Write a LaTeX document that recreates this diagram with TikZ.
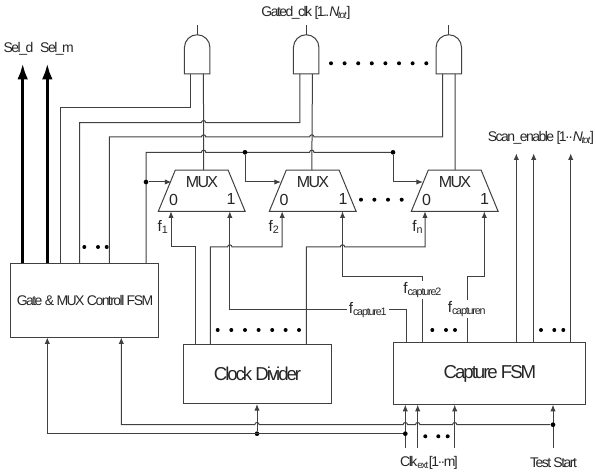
\documentclass[tikz,border=0pt]{standalone}
\usepackage{fontspec}
\setmainfont{Liberation Sans}
\newfontfamily\tightf[LetterSpace=-11]{Liberation Sans}
\usetikzlibrary{arrows.meta,calc}
\definecolor{ink}{gray}{0.25}
\newcommand{\jmp}[1]{-- ($(#1)+(-2.2,0)$) arc[start angle=180,end angle=360,radius=2.2]}
\newcommand{\jmpl}[1]{-- ($(#1)+(2.2,0)$) arc[start angle=360,end angle=180,radius=2.2]}
\tikzset{
  wire/.style={draw=ink,line width=0.75pt,line join=miter},
  arr/.style={wire,-{Latex[length=5pt,width=4pt]}},
  thickarr/.style={draw=black,line width=2.3pt,-{Latex[length=12pt,width=8pt]}},
  block/.style={draw=ink,line width=0.8pt,rectangle,inner sep=0pt,outer sep=0pt},
  dotn/.style={circle,fill=black,inner sep=0pt,minimum size=3pt},
  jdot/.style={circle,fill=black,inner sep=0pt,minimum size=3.5pt},
  lbl/.style={inner sep=0pt,text=black!85,font=\tightf\fontsize{10.5}{12}\selectfont},
  biglbl/.style={inner sep=0pt,text=black!85,font=\tightf\fontsize{14}{16}\selectfont},
  muxlbl/.style={inner sep=0pt,text=black!85,font=\tightf\fontsize{12}{14}\selectfont},
  digit/.style={inner sep=0pt,text=black!85,font=\fontsize{12}{14}\selectfont},
  flbl/.style={inner sep=1pt,fill=white,text=black!85,font=\tightf\fontsize{11.5}{13}\selectfont},
  andgate/.pic={
    \draw[wire] (-12.75,0) -- (-12.75,-26.5) arc[start angle=180,end angle=360,radius=12.75] -- (12.75,0) -- cycle;
    \coordinate (-a) at (-6.25,0);
    \coordinate (-b) at (6.25,0);
    \coordinate (-top) at (0,-39.2);
    \coordinate (-end) at (0,-49);
  },
  muxshape/.pic={
    \draw[wire] (-26.4,-20.65) -- (26.4,-20.65) -- (43.4,20.65) -- (-43.4,20.65) -- cycle;
  }
}
\begin{document}
\begin{tikzpicture}[x=0.75pt,y=-0.75pt]
\useasboundingbox (0,0) rectangle (596,473);

% blocks
\node[block,minimum width=111pt,minimum height=55.5pt] (fsm) at (84.3,300.3) {};
\node[block,minimum width=111.2pt,minimum height=44.5pt] (div) at (257.2,374.3) {};
\node[block,minimum width=144.2pt,minimum height=46.7pt] (cap) at (489.2,373.5) {};
\node[lbl] (fsmt) at (85,300) {Gate \& MUX Controll FSM};
\node[biglbl] (divt) at (257.5,374) {Clock Divider};
\node[biglbl] (capt) at (490,373.7) {Capture FSM};

% gates
\pic (g1) at (197.2,74) {andgate};
\pic (g2) at (306.2,74) {andgate};
\pic (g3) at (448.8,74) {andgate};
\draw[wire] (g1-top) -- (g1-end);
\draw[wire] (g2-top) -- (g2-end);
\draw[wire] (g3-top) -- (g3-end);

% muxes
\pic (m1) at (201.7,190.7) {muxshape};
\pic (m2) at (312.7,190.7) {muxshape};
\pic (m3) at (454.7,190.7) {muxshape};
\node[muxlbl] (m1t) at (202,182) {MUX};
\node[muxlbl] (m2t) at (313,182) {MUX};
\node[muxlbl] (m3t) at (455,182) {MUX};
\node[digit] (m1z) at (173.5,199.5) {0};
\node[digit] (m1o) at (231,199.5) {1};
\node[digit] (m2z) at (284,199.5) {0};
\node[digit] (m2o) at (343,199.5) {1};
\node[digit] (m3z) at (426.5,199.5) {0};
\node[digit] (m3o) at (484.5,199.5) {1};

% x positions of the buses
\coordinate (xa) at (60,108);
\coordinate (xb) at (79.5,122.7);
\coordinate (xc) at (109.3,137);
\coordinate (xd) at (146,152.3);
\coordinate (m1out) at (203.6,170);
\coordinate (m2out) at (311.8,170);
\coordinate (m3out) at (455,170);
\coordinate (m1in0) at (171,211.3);
\coordinate (m1in1) at (229.8,211.3);
\coordinate (m2in0) at (282.2,211.3);
\coordinate (m2in1) at (342.5,211.3);
\coordinate (m3in0) at (425,211.3);
\coordinate (m3in1) at (484.3,211.3);

% gate to mux stems
\draw[wire] (g1-b) -- (m1out);
\draw[wire] (g2-b) -- (m2out);
\draw[wire] (g3-b) -- (m3out);

% buses from the control FSM
\draw[thickarr] (22.7,263.3) coordinate (sd0) -- (22.7,63.3) coordinate (sd1);
\draw[thickarr] (47.3,263.3) coordinate (sm0) -- (47.3,63.3) coordinate (sm1);
\draw[wire] (xa |- fsm.north) -- (xa) -- (g1-a |- xa) -- (g1-a);
\draw[wire] (xb |- fsm.north) -- (xb) \jmp{m1out |- xb} -- (g2-a |- xb) -- (g2-a);
\draw[wire] (xc |- fsm.north) -- (xc) \jmp{m1out |- xc} \jmp{m2out |- xc} -- (g3-a |- xc) -- (g3-a);
\coordinate (sel2) at (245,152.3);
\coordinate (sel3) at (393,152.3);
\draw[wire] (xd |- fsm.north) -- (xd) \jmp{m1out |- xd} -- (sel2) \jmp{m2out |- xd} -- (sel3);

% select arrows
\node[jdot] (j0) at (146,182) {};
\node[jdot] (j2) at (sel2) {};
\node[jdot] (j3) at (sel3) {};
\coordinate (s1) at (171.5,182);
\coordinate (s2) at (281,182);
\coordinate (s3) at (423,182);
\draw[arr] (j0) -- (s1);
\draw[arr] (j2) -- (j2 |- s2) -- (s2);
\draw[arr] (j3) -- (j3 |- s3) -- (s3);

% clock divider to mux 0-inputs
\coordinate (h) at (0,247);
\coordinate (dv1) at (195.7,344.7);
\coordinate (dv2) at (210.3,344.7);
\coordinate (dv3) at (306.3,344.7);
\draw[arr] (dv1) -- (dv1 |- h) -- (m1in0 |- h) -- (m1in0);
\draw[arr] (dv2) -- (dv2 |- h) \jmp{m1in1 |- h} -- (m2in0 |- h) -- (m2in0);
\draw[arr] (dv3) -- (dv3 |- h) \jmp{m2in1 |- h} -- (m3in0 |- h) -- (m3in0);

% capture FSM to mux 1-inputs
\coordinate (c1) at (406,342.3);
\coordinate (c2) at (422.7,342.3);
\coordinate (c3) at (467,342.3);
\draw[arr] (c1) -- (c1 |- 0,309.3) -- (m1in1 |- 0,309.3) -- (m1in1);
\draw[arr] (c2) -- (c2 |- 0,276.3) -- (m2in1 |- 0,276.3) -- (m2in1);
\draw[arr] (c3) -- (c3 |- 0,276.3) -- (m3in1 |- 0,276.3) -- (m3in1);

% scan enables
\coordinate (se1) at (516.3,342.3);
\coordinate (se2) at (533.7,342.3);
\coordinate (se3) at (570.7,342.3);
\draw[arr] (se1) -- (se1 |- 0,153.3);
\draw[arr] (se2) -- (se2 |- 0,153.3);
\draw[arr] (se3) -- (se3 |- 0,153.3);

% bottom inputs
\coordinate (ck1) at (405.3,448);
\coordinate (ck2) at (417.7,448);
\coordinate (ck3) at (454.7,448);
\coordinate (ts) at (553,448);
\coordinate (fi1) at (47.3,337.3);
\coordinate (fi2) at (121.3,337.3);
\draw[arr] (ck1) -- (ck1 |- cap.south);
\draw[arr] (ck2) -- (ck2 |- cap.south);
\draw[arr] (ck3) -- (ck3 |- cap.south);
\draw[arr] (ts) -- (ts |- cap.south);
\node[jdot] (jt) at (553,424.7) {};
\node[jdot] (jc) at (405.3,433.7) {};
\node[jdot] (jd) at (257,433.7) {};
\draw[arr] (jd) -- (jd |- div.south);
\draw[arr] (jc) -- (fi1 |- jc) -- (fi1);
\draw[arr] (jt) \jmpl{ck3 |- jt} \jmpl{ck2 |- jt} \jmpl{ck1 |- jt} \jmpl{jd |- jt} -- (fi2 |- jt) -- (fi2);

% frequency labels (over the wires)
\node[flbl,fill=none] (f1) at (163,227) {f\textsubscript{1}};
\node[flbl,fill=none] (f2) at (274,227) {f\textsubscript{2}};
\node[flbl,fill=none] (fn) at (417.7,227) {f\textsubscript{n}};
\node[flbl] (fc1) at (368,310) {f\textsubscript{capture1}};
\node[flbl] (fc2) at (422.7,290) {f\textsubscript{capture2}};
\node[flbl] (fcn) at (467,309) {f\textsubscript{capturen}};

% text labels
\node[lbl] (seld) at (18.5,49) {Sel\_d};
\node[lbl] (selm) at (57,49) {Sel\_m};
\node[lbl] (gclk) at (306,13) {Gated\_clk [1..\textit{N}\textsubscript{\textit{tot}}]};
\node[lbl] (scan) at (541,138) {Scan\_enable [1··\textit{N}\textsubscript{\textit{tot}}]};
\node[lbl] (clkx) at (429,463) {Clk\textsubscript{ext}[1··m]};
\node[lbl] (tst) at (553.5,463) {Test Start};

% ellipsis dots
\foreach \x [count=\i] in {331,344.6,358.2,371.8,385.4,399,412.6,426.3}
  \node[dotn] (ga\i) at (\x,63.3) {};
\foreach \x [count=\i] in {361,374.4,388,401.7}
  \node[dotn] (mu\i) at (\x,199.7) {};
\foreach \x [count=\i] in {217.7,231.3,245,258.6,272.2,285.6,299}
  \node[dotn] (di\i) at (\x,330) {};
\foreach \x [count=\i] in {84.3,98,106.7}
  \node[dotn] (fs\i) at (\x,247) {};
\foreach \x [count=\i] in {432.3,446,455}
  \node[dotn] (ca\i) at (\x,330) {};
\foreach \x [count=\i] in {541,554.3,563.3}
  \node[dotn] (sc\i) at (\x,330) {};
\foreach \x [count=\i] in {425.3,438.3,447.7}
  \node[dotn] (cl\i) at (\x,436.3) {};
\end{tikzpicture}
\end{document}
